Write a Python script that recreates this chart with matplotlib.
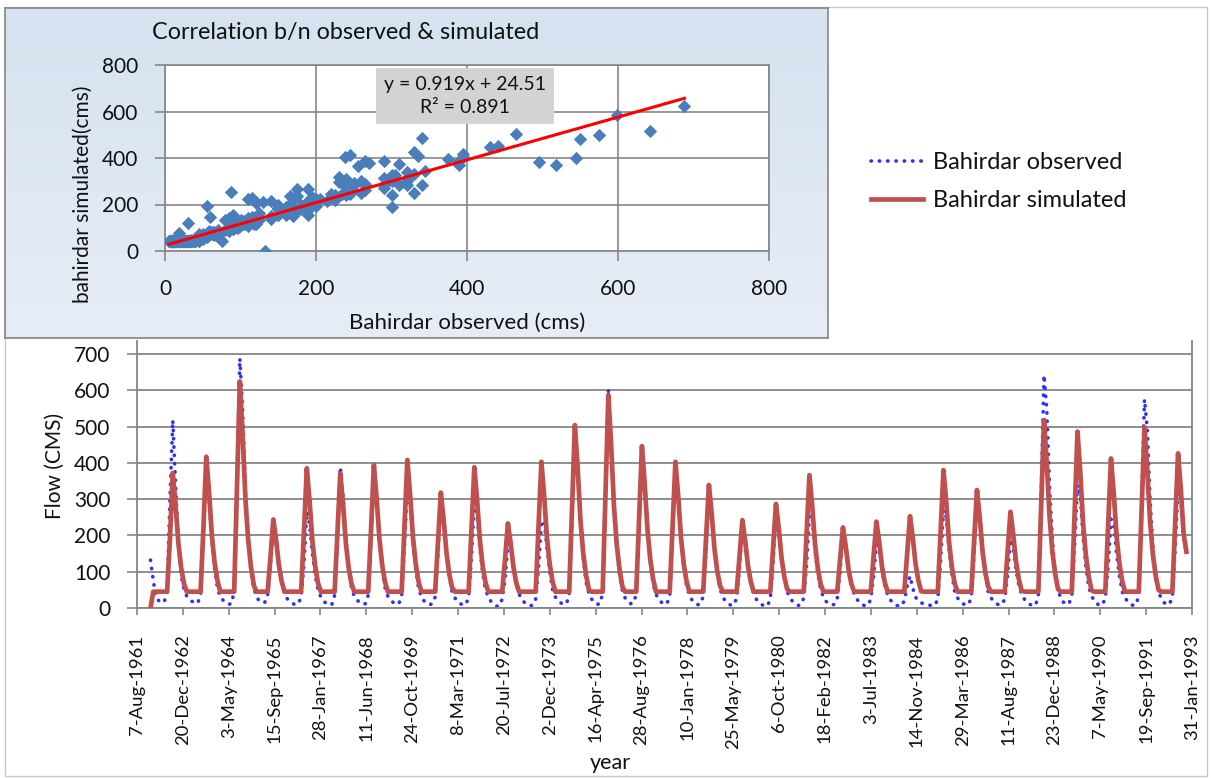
import numpy as np
import pandas as pd
import matplotlib
matplotlib.use("Agg")
import matplotlib.pyplot as plt
from matplotlib.patches import Rectangle
from matplotlib.lines import Line2D
from matplotlib.colors import LinearSegmentedColormap

plt.rcParams['font.family'] = ['Lato', 'DejaVu Sans']

# ---------------- data (monthly, Jan..Dec, 1962-1992) ----------------
years = list(range(1962, 1993))
simulated_by_year = [
    [0, 45, 45, 45, 45, 45, 45, 190, 372, 286, 179, 112],
    [67, 45, 45, 45, 45, 45, 45, 220, 417, 321, 200, 125],
    [75, 45, 45, 45, 45, 45, 45, 330, 624, 480, 300, 187],
    [112, 62, 45, 45, 45, 45, 45, 140, 244, 188, 117, 73],
    [45, 45, 45, 45, 45, 45, 45, 210, 385, 296, 185, 116],
    [69, 45, 45, 45, 45, 45, 45, 205, 371, 286, 178, 111],
    [67, 45, 45, 45, 45, 45, 45, 215, 394, 303, 189, 118],
    [71, 45, 45, 45, 45, 45, 45, 225, 408, 314, 196, 122],
    [73, 45, 45, 45, 45, 45, 45, 180, 318, 245, 153, 95],
    [57, 45, 45, 45, 45, 45, 45, 215, 388, 299, 186, 116],
    [70, 45, 45, 45, 45, 45, 45, 135, 233, 179, 112, 70],
    [45, 45, 45, 45, 45, 45, 45, 222, 403, 310, 193, 121],
    [73, 45, 45, 45, 45, 45, 45, 275, 504, 388, 242, 151],
    [91, 50, 45, 45, 45, 45, 45, 315, 587, 452, 282, 176],
    [106, 59, 45, 45, 45, 45, 45, 245, 446, 343, 214, 134],
    [80, 45, 45, 45, 45, 45, 45, 222, 403, 310, 193, 121],
    [73, 45, 45, 45, 45, 45, 45, 190, 339, 261, 163, 102],
    [61, 45, 45, 45, 45, 45, 45, 142, 242, 186, 116, 73],
    [45, 45, 45, 45, 45, 45, 45, 165, 287, 221, 138, 86],
    [52, 45, 45, 45, 45, 45, 45, 205, 366, 282, 176, 110],
    [66, 45, 45, 45, 45, 45, 45, 132, 222, 171, 107, 67],
    [45, 45, 45, 45, 45, 45, 45, 140, 238, 183, 114, 71],
    [45, 45, 45, 45, 45, 45, 45, 148, 253, 195, 121, 76],
    [46, 45, 45, 45, 45, 45, 45, 212, 380, 293, 182, 114],
    [68, 45, 45, 45, 45, 45, 45, 185, 325, 250, 156, 98],
    [59, 45, 45, 45, 45, 45, 45, 155, 265, 204, 127, 80],
    [48, 45, 45, 45, 45, 45, 45, 282, 518, 399, 249, 155],
    [93, 52, 45, 45, 45, 45, 45, 265, 486, 374, 233, 146],
    [87, 49, 45, 45, 45, 45, 45, 228, 412, 317, 198, 124],
    [74, 45, 45, 45, 45, 45, 45, 272, 498, 383, 239, 149],
    [90, 50, 45, 45, 45, 45, 45, 235, 426, 328, 204, 155],
]
observed_by_year = [
    [132, 75, 30, 20, 14, 18, 45, 300, 518, 340, 180, 90],
    [50, 32, 24, 18, 13, 14, 38, 200, 395, 300, 185, 105],
    [55, 30, 22, 15, 10, 12, 45, 330, 688, 550, 320, 190],
    [100, 55, 30, 20, 14, 16, 35, 120, 235, 190, 120, 70],
    [40, 25, 18, 12, 9, 12, 30, 120, 265, 230, 150, 90],
    [50, 30, 20, 12, 8, 10, 35, 190, 389, 310, 190, 110],
    [55, 32, 22, 15, 10, 12, 35, 190, 375, 300, 185, 110],
    [55, 32, 22, 15, 10, 12, 35, 170, 335, 290, 180, 105],
    [55, 30, 20, 12, 9, 12, 30, 150, 300, 245, 150, 90],
    [45, 28, 18, 12, 8, 10, 30, 140, 290, 260, 165, 95],
    [50, 30, 18, 10, 5, 6, 25, 80, 172, 170, 110, 65],
    [38, 24, 15, 10, 6, 8, 25, 110, 238, 240, 165, 100],
    [50, 30, 20, 14, 10, 12, 35, 240, 465, 390, 240, 140],
    [70, 40, 25, 16, 10, 12, 40, 300, 599, 441, 290, 170],
    [90, 48, 28, 18, 12, 14, 38, 220, 430, 345, 215, 125],
    [65, 38, 24, 16, 10, 12, 35, 200, 395, 320, 200, 118],
    [60, 35, 22, 14, 9, 11, 32, 160, 320, 265, 165, 98],
    [52, 30, 18, 12, 7, 9, 28, 110, 225, 190, 118, 72],
    [40, 24, 15, 9, 5, 6, 25, 125, 265, 225, 140, 85],
    [45, 28, 18, 11, 7, 9, 28, 120, 256, 250, 160, 95],
    [50, 30, 18, 12, 8, 10, 26, 100, 205, 175, 110, 68],
    [38, 24, 15, 9, 6, 8, 24, 85, 175, 165, 105, 62],
    [36, 22, 14, 8, 5, 6, 20, 60, 88, 55, 30, 18],
    [14, 12, 10, 8, 6, 8, 25, 130, 270, 250, 160, 95],
    [45, 28, 18, 12, 8, 10, 28, 150, 305, 260, 160, 95],
    [45, 28, 18, 12, 8, 10, 25, 90, 190, 165, 105, 62],
    [38, 24, 15, 10, 6, 8, 35, 320, 642, 545, 330, 190],
    [90, 50, 28, 16, 10, 12, 35, 175, 340, 310, 195, 115],
    [58, 34, 20, 12, 7, 9, 28, 115, 245, 230, 150, 90],
    [45, 28, 18, 11, 7, 9, 35, 290, 575, 495, 300, 170],
    [80, 45, 26, 15, 9, 11, 32, 165, 330, 300, 195, 150],
]
x_tick_labels = ["7-Aug-1961", "20-Dec-1962", "3-May-1964", "15-Sep-1965",
                 "28-Jan-1967", "11-Jun-1968", "24-Oct-1969", "8-Mar-1971",
                 "20-Jul-1972", "2-Dec-1973", "16-Apr-1975", "28-Aug-1976",
                 "10-Jan-1978", "25-May-1979", "6-Oct-1980", "18-Feb-1982",
                 "3-Jul-1983", "14-Nov-1984", "29-Mar-1986", "11-Aug-1987",
                 "23-Dec-1988", "7-May-1990", "19-Sep-1991", "31-Jan-1993"]
flow_ticks = [0, 100, 200, 300, 400, 500, 600, 700]
scatter_ticks = [0, 200, 400, 600, 800]
trend_slope = 0.919
trend_intercept = 24.51
r_squared = 0.891

simulated = np.array(simulated_by_year, dtype=float).ravel()
observed = np.array(observed_by_year, dtype=float).ravel()
dates = pd.date_range(f"{years[0]}-01-01", periods=len(simulated), freq="MS")
tick_dates = pd.to_datetime(x_tick_labels, format="%d-%b-%Y")

# ---------------- figure ----------------
W, H = 1211, 778
fig = plt.figure(figsize=(W / 100, H / 100), dpi=100)
fx = lambda x: x / W
fy = lambda y: 1 - y / H

GRID = '#868686'
TXT = '#111111'
BLUE = '#2E2EFF'
RED = '#C0504D'
OBS_STYLE = (0, (0.1, 2.2))

# outer chart border
fig.patches.append(Rectangle((fx(5), fy(776)), fx(1207) - fx(5), fy(7) - fy(776),
                             transform=fig.transFigure, fill=False,
                             ec='#C8C8C8', lw=1.0, zorder=0))

# ---------------- main time-series axes ----------------
ax = fig.add_axes([fx(137), fy(608), fx(1192) - fx(137), fy(341) - fy(608)])
ax.set_zorder(1)
ax.plot(dates, observed, color=BLUE, lw=2.6, linestyle=OBS_STYLE,
        dash_capstyle='round', zorder=2, label='Bahirdar observed')
ax.plot(dates, simulated, color=RED, lw=3.4, zorder=3, solid_joinstyle='round',
        label='Bahirdar simulated')
ax.set_ylim(0, 700 * (608 - 341) / (608 - 354))
ax.set_yticks(flow_ticks)
ax.set_xlim(tick_dates[0], tick_dates[-1])
ax.set_xticks(tick_dates)
ax.set_xticklabels(x_tick_labels, rotation=90, fontsize=13.3, color=TXT)
ax.tick_params(axis='x', direction='out', length=5, width=1.2, color=GRID, pad=14)
ax.tick_params(axis='y', direction='out', length=7, width=1.2, color=GRID,
               pad=12, labelsize=15, labelcolor=TXT)
ax.yaxis.grid(True, color=GRID, lw=1.3)
ax.set_axisbelow(True)
for s in ['left', 'bottom', 'right']:
    ax.spines[s].set_color(GRID)
    ax.spines[s].set_linewidth(1.3)
ax.spines['top'].set_visible(False)

fig.text(fx(55), fy(466), 'Flow (CMS)', rotation=90, ha='center', va='center',
         fontsize=15, color=TXT)
fig.text(fx(610), fy(763), 'year', ha='center', va='center', fontsize=15.5, color=TXT)

# legend
handles = [Line2D([], [], color=BLUE, lw=2.6, linestyle=OBS_STYLE,
                  dash_capstyle='round'),
           Line2D([], [], color=RED, lw=3.4)]
fig.legend(handles, ['Bahirdar observed', 'Bahirdar simulated'],
           loc='upper left', bbox_to_anchor=(fx(850), fy(131)), frameon=False,
           fontsize=17, handlelength=2.2, handletextpad=0.4, labelspacing=0.72,
           labelcolor=TXT)

# ---------------- inset correlation chart ----------------
axbg = fig.add_axes([fx(5), fy(338), fx(828) - fx(5), fy(8) - fy(338)])
axbg.set_zorder(2)
grad = np.linspace(0, 1, 256).reshape(-1, 1)
cmap = LinearSegmentedColormap.from_list('bg', ['#D6E2F0', '#E6EDF6'])
axbg.imshow(grad, aspect='auto', cmap=cmap, extent=[0, 1, 0, 1], origin='upper')
axbg.set_xticks([]); axbg.set_yticks([])
axbg.set_xlim(0, 1); axbg.set_ylim(0, 1)
for s in axbg.spines.values():
    s.set_color('#8C8C8C'); s.set_linewidth(1.3)

axin = fig.add_axes([fx(165), fy(251), fx(769) - fx(165), fy(65) - fy(251)])
axin.set_zorder(3)
axin.set_facecolor('white')
axin.scatter(observed, simulated, marker='D', s=46, color='#4A7EBB',
             linewidths=0, zorder=3)
xl = np.array([observed.min(), observed.max()])
axin.plot(xl, trend_slope * xl + trend_intercept, color='#FF0000', lw=2.2, zorder=4)
axin.set_xlim(0, 800); axin.set_ylim(0, 800)
axin.set_xticks(scatter_ticks); axin.set_yticks(scatter_ticks)
axin.grid(True, color=GRID, lw=1.2)
axin.set_axisbelow(True)
axin.tick_params(direction='out', length=7, width=1.2, color=GRID,
                 labelsize=15, labelcolor=TXT)
axin.tick_params(axis='x', pad=13)
axin.tick_params(axis='y', pad=12)
for s in axin.spines.values():
    s.set_color(GRID); s.set_linewidth(1.2)

fig.text(fx(152), fy(32), 'Correlation b/n observed & simulated', ha='left',
         va='center', fontsize=16.8, color=TXT, zorder=5)
fig.text(fx(83), fy(194), 'bahirdar simulated(cms)', rotation=90, ha='center',
         va='center', fontsize=15, color=TXT, zorder=5)
fig.text(fx(467), fy(323), 'Bahirdar observed (cms)', ha='center', va='center',
         fontsize=16, color=TXT, zorder=5)
eq = f"y = {trend_slope}x + {trend_intercept}\nR\u00b2 = {r_squared}"
t = axin.text(0.5, 0.84, eq, transform=axin.transAxes, ha='center', va='center',
              fontsize=14, color=TXT, linespacing=1.4, zorder=6,
              bbox=dict(boxstyle='square,pad=0.42', fc='#D3D3D3', ec='none'))
t.set_position(((465 - 165) / (769 - 165), (251 - 96) / (251 - 65)))

fig.savefig('out.png', dpi=100)
